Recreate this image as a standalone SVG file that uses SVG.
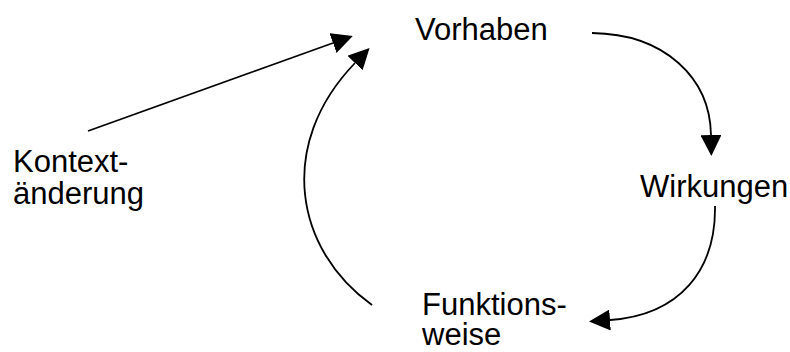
<svg xmlns="http://www.w3.org/2000/svg" width="790" height="352" viewBox="0 0 790 352">
<style>
text{font-family:"Liberation Sans",Arial,sans-serif;font-size:31px;fill:#000}
.c{fill:none;stroke:#000;stroke-width:1.8}
</style>
<defs>
<marker id="ah" markerUnits="userSpaceOnUse" markerWidth="21" markerHeight="21" refX="0" refY="10.5" orient="auto" viewBox="0 0 21 21">
<path d="M0,0 L21,10.5 L0,21 z" fill="#000"/>
</marker>
</defs>
<rect width="790" height="352" fill="#fff"/>
<g id="connectors">
<path class="c" d="M88,131 L333,43" marker-end="url(#ah)"/>
<path class="c" d="M372,305 C295,250 276,145 355,63" marker-end="url(#ah)"/>
<path class="c" d="M592,33 C665,34 710,78 711,135" marker-end="url(#ah)"/>
<path class="c" d="M715,206 C716,270 680,315 610,320" marker-end="url(#ah)"/>
</g>
<g id="vorhaben"><text x="415" y="40">Vorhaben</text></g>
<g id="wirkungen"><text x="640" y="197">Wirkungen</text></g>
<g id="funktionsweise"><text x="422" y="315">Funktions-</text><text x="422" y="345">weise</text></g>
<g id="kontextaenderung"><text x="13" y="172">Kontext-</text><text x="13" y="204">änderung</text></g>
</svg>
